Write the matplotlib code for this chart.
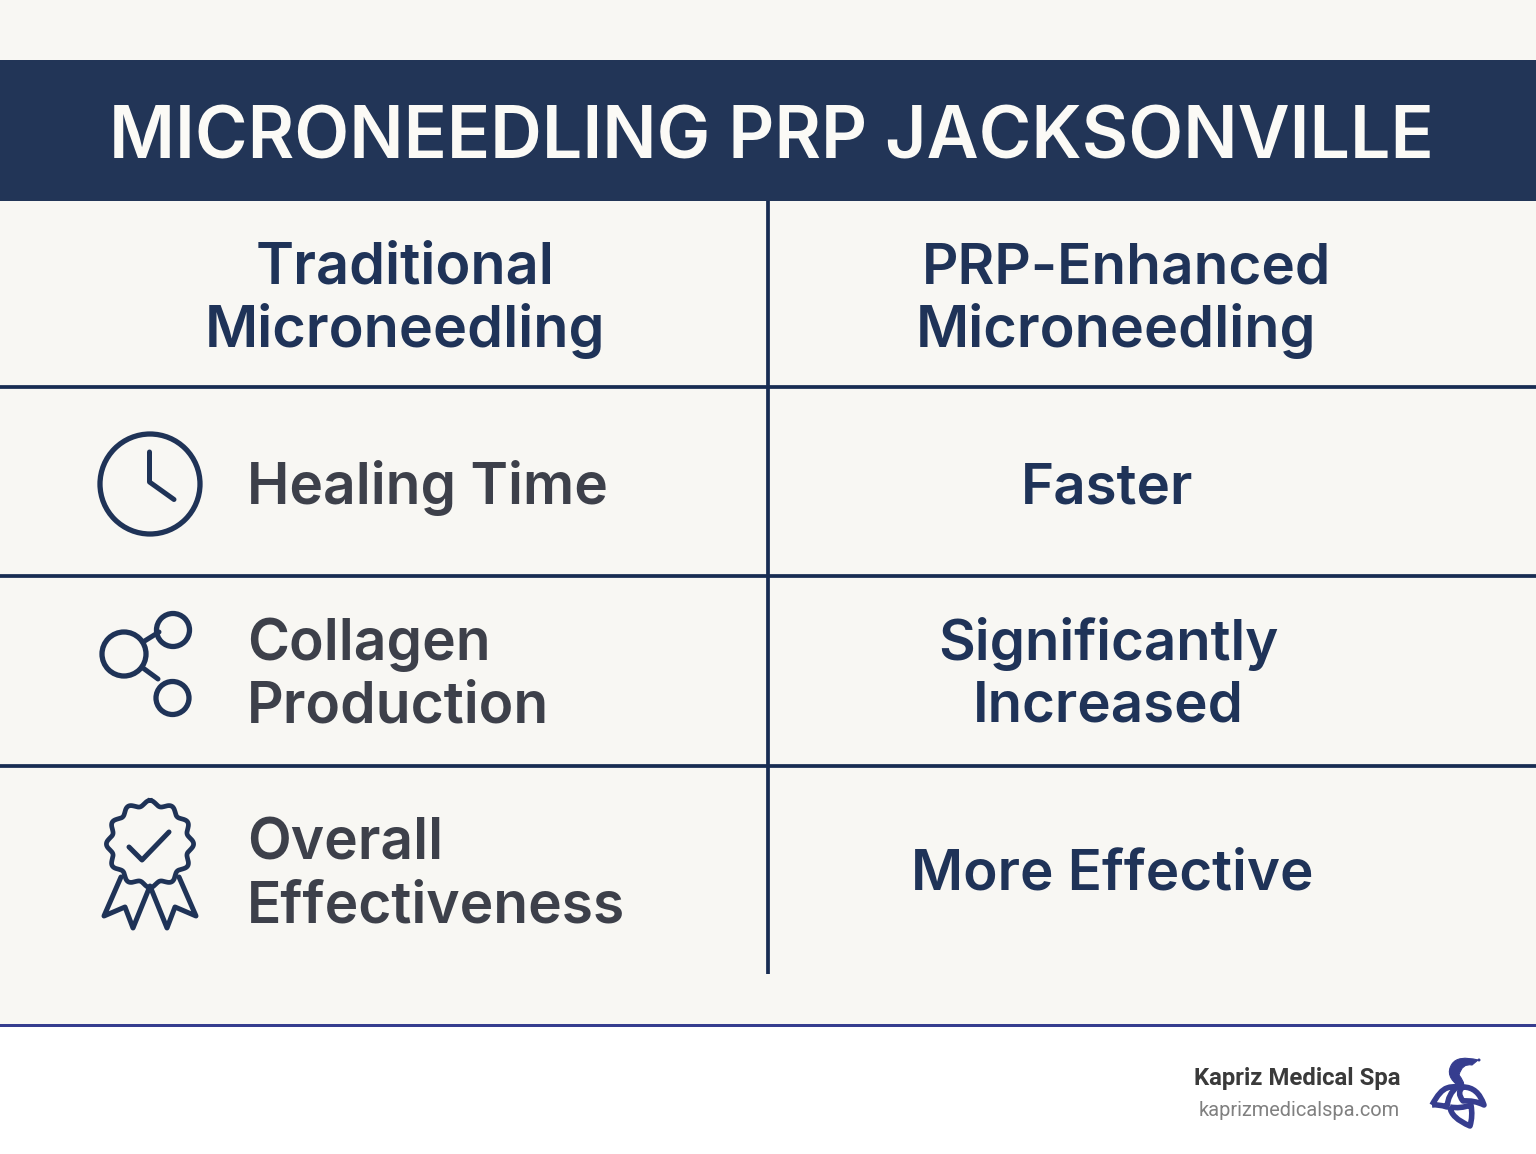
import numpy as np
import matplotlib
matplotlib.use('Agg')
import matplotlib.pyplot as plt
from matplotlib.patches import Rectangle, Circle, PathPatch
from matplotlib.path import Path

title = 'MICRONEEDLING PRP JACKSONVILLE'
col_heads = [['Traditional', 'Microneedling'], ['PRP-Enhanced', 'Microneedling']]
row_names = ['Healing Time', 'Collagen\nProduction', 'Overall\nEffectiveness']
row_values = ['Faster', 'Significantly\nIncreased', 'More Effective']
brand = 'Kapriz Medical Spa'
site = 'kaprizmedicalspa.com'

NAVY = '#1f3357'
LINE = '#182c52'
TEXT_NAVY = '#1f3358'
GREY = '#3d404a'
BG = '#f8f7f3'
BLUE = '#363d8f'

plt.rcParams['font.family'] = ['Inter', 'DejaVu Sans']

fig = plt.figure(figsize=(15.36, 11.54), dpi=100)
ax = fig.add_axes([0, 0, 1, 1])
ax.set_xlim(0, 1536)
ax.set_ylim(1154, 0)
ax.axis('off')

# background bands
ax.add_patch(Rectangle((0, 0), 1536, 1025, color=BG, lw=0))
ax.add_patch(Rectangle((0, 60), 1536, 141, color='#223557', lw=0))
ax.add_patch(Rectangle((0, 1024), 1536, 3, color=BLUE, lw=0))

# table lines
for y in [386.5, 576, 766]:
    ax.plot([0, 1536], [y, y], color=LINE, lw=2.7, solid_capstyle='butt')
ax.plot([768, 768], [201, 974], color=LINE, lw=2.7, solid_capstyle='butt')

ax.text(771, 158.5, title, color='#fbfaf6', fontsize=51.5, fontweight='semibold',
        ha='center', va='baseline')

# headers, one text per line since the lines are not centred on each other
head_x = [[405, 405], [1127, 1116]]
head_y = [284, 347]
head_size = [[41.5, 41.5], [40.8, 41.5]]
for lines, xs, sizes in zip(col_heads, head_x, head_size):
    for line, x, y, fs in zip(lines, xs, head_y, sizes):
        ax.text(x, y, line, color=TEXT_NAVY, fontsize=fs, fontweight='semibold',
                ha='center', va='baseline')

# rows
name_y = [488, 676, 876]
value_x = [1107, 1108, 1112]
value_y = [488, 675, 874]
for name, y in zip(row_names, name_y):
    ax.text(247, y, name, color=GREY, fontsize=41, fontweight='semibold',
            ha='left', va='center', linespacing=1.22)
for val, x, y in zip(row_values, value_x, value_y):
    ax.text(x, y, val, color=TEXT_NAVY, fontsize=40.7, fontweight='semibold',
            ha='center', va='center', linespacing=1.23, multialignment='center')

ICON = dict(color=NAVY, lw=3.6, solid_capstyle='round', solid_joinstyle='round')

# clock icon
ax.add_patch(Circle((150, 484), 50, fill=False, ec=NAVY, lw=3.8))
ax.plot([149.5, 149.5, 174], [452, 482, 499.5], **ICON)

# share / collagen icon
for cx, cy, r in [(124, 654, 22), (173, 630, 16.5), (172.5, 698, 16.5)]:
    ax.add_patch(Circle((cx, cy), r, fill=False, ec=NAVY, lw=3.8))
ax.plot([143, 159], [642, 632], **ICON)
ax.plot([143, 158], [668, 679], **ICON)

# badge icon, wavy rosette
theta = np.linspace(0, 2 * np.pi, 500)
rad = 41 + 2.6 * np.cos(12 * theta)
ax.plot(150 + rad * np.sin(theta), 844 - rad * np.cos(theta), color=NAVY, lw=3.4)
ax.plot([129, 142, 169], [847, 860, 832], **ICON)
ax.plot([121, 104, 125, 133, 150, 167, 175, 196, 179],
        [877, 916, 907, 928, 886, 928, 907, 916, 877], **ICON)

# footer
ax.text(1400, 1078, brand, color='#3a3a3a', fontsize=17.2, fontweight='bold',
        family=['Roboto', 'DejaVu Sans'], ha='right', va='center')
ax.text(1400, 1110, site, color='#808080', fontsize=14.4,
        family=['Roboto', 'DejaVu Sans'], ha='right', va='center')

# logo
M, L, C = Path.MOVETO, Path.LINETO, Path.CURVE3
neck = Path([(1460, 1087), (1444, 1076), (1452, 1064), (1458, 1055), (1478, 1060),
             (1472, 1065), (1462, 1063), (1459, 1075), (1468, 1087), (1460, 1087)],
            [M, C, C, C, C, L, C, C, C, L])
left = Path([(1432, 1105), (1440, 1090), (1447, 1088), (1452, 1086), (1457, 1087),
             (1448, 1094), (1447, 1107), (1438, 1104), (1432, 1105)],
            [M, C, C, C, C, C, C, C, C])
right = Path([(1463, 1087), (1478, 1087), (1484, 1105), (1474, 1100), (1463, 1101),
              (1456, 1092), (1463, 1087)],
             [M, C, C, C, C, C, C])
low = Path([(1450, 1107), (1451, 1118), (1470, 1126), (1473, 1116), (1471, 1105),
            (1460, 1109), (1450, 1107)],
           [M, C, C, C, C, C, C])
ax.add_patch(PathPatch(neck, fc=BLUE, ec=BLUE, lw=0.8))
ax.add_patch(Circle((1479, 1060), 1.5, color=BLUE, lw=0))
for p in [left, right, low]:
    ax.add_patch(PathPatch(p, fc='none', ec=BLUE, lw=4, joinstyle='round'))

fig.savefig('out.png', dpi=100, facecolor='white')
